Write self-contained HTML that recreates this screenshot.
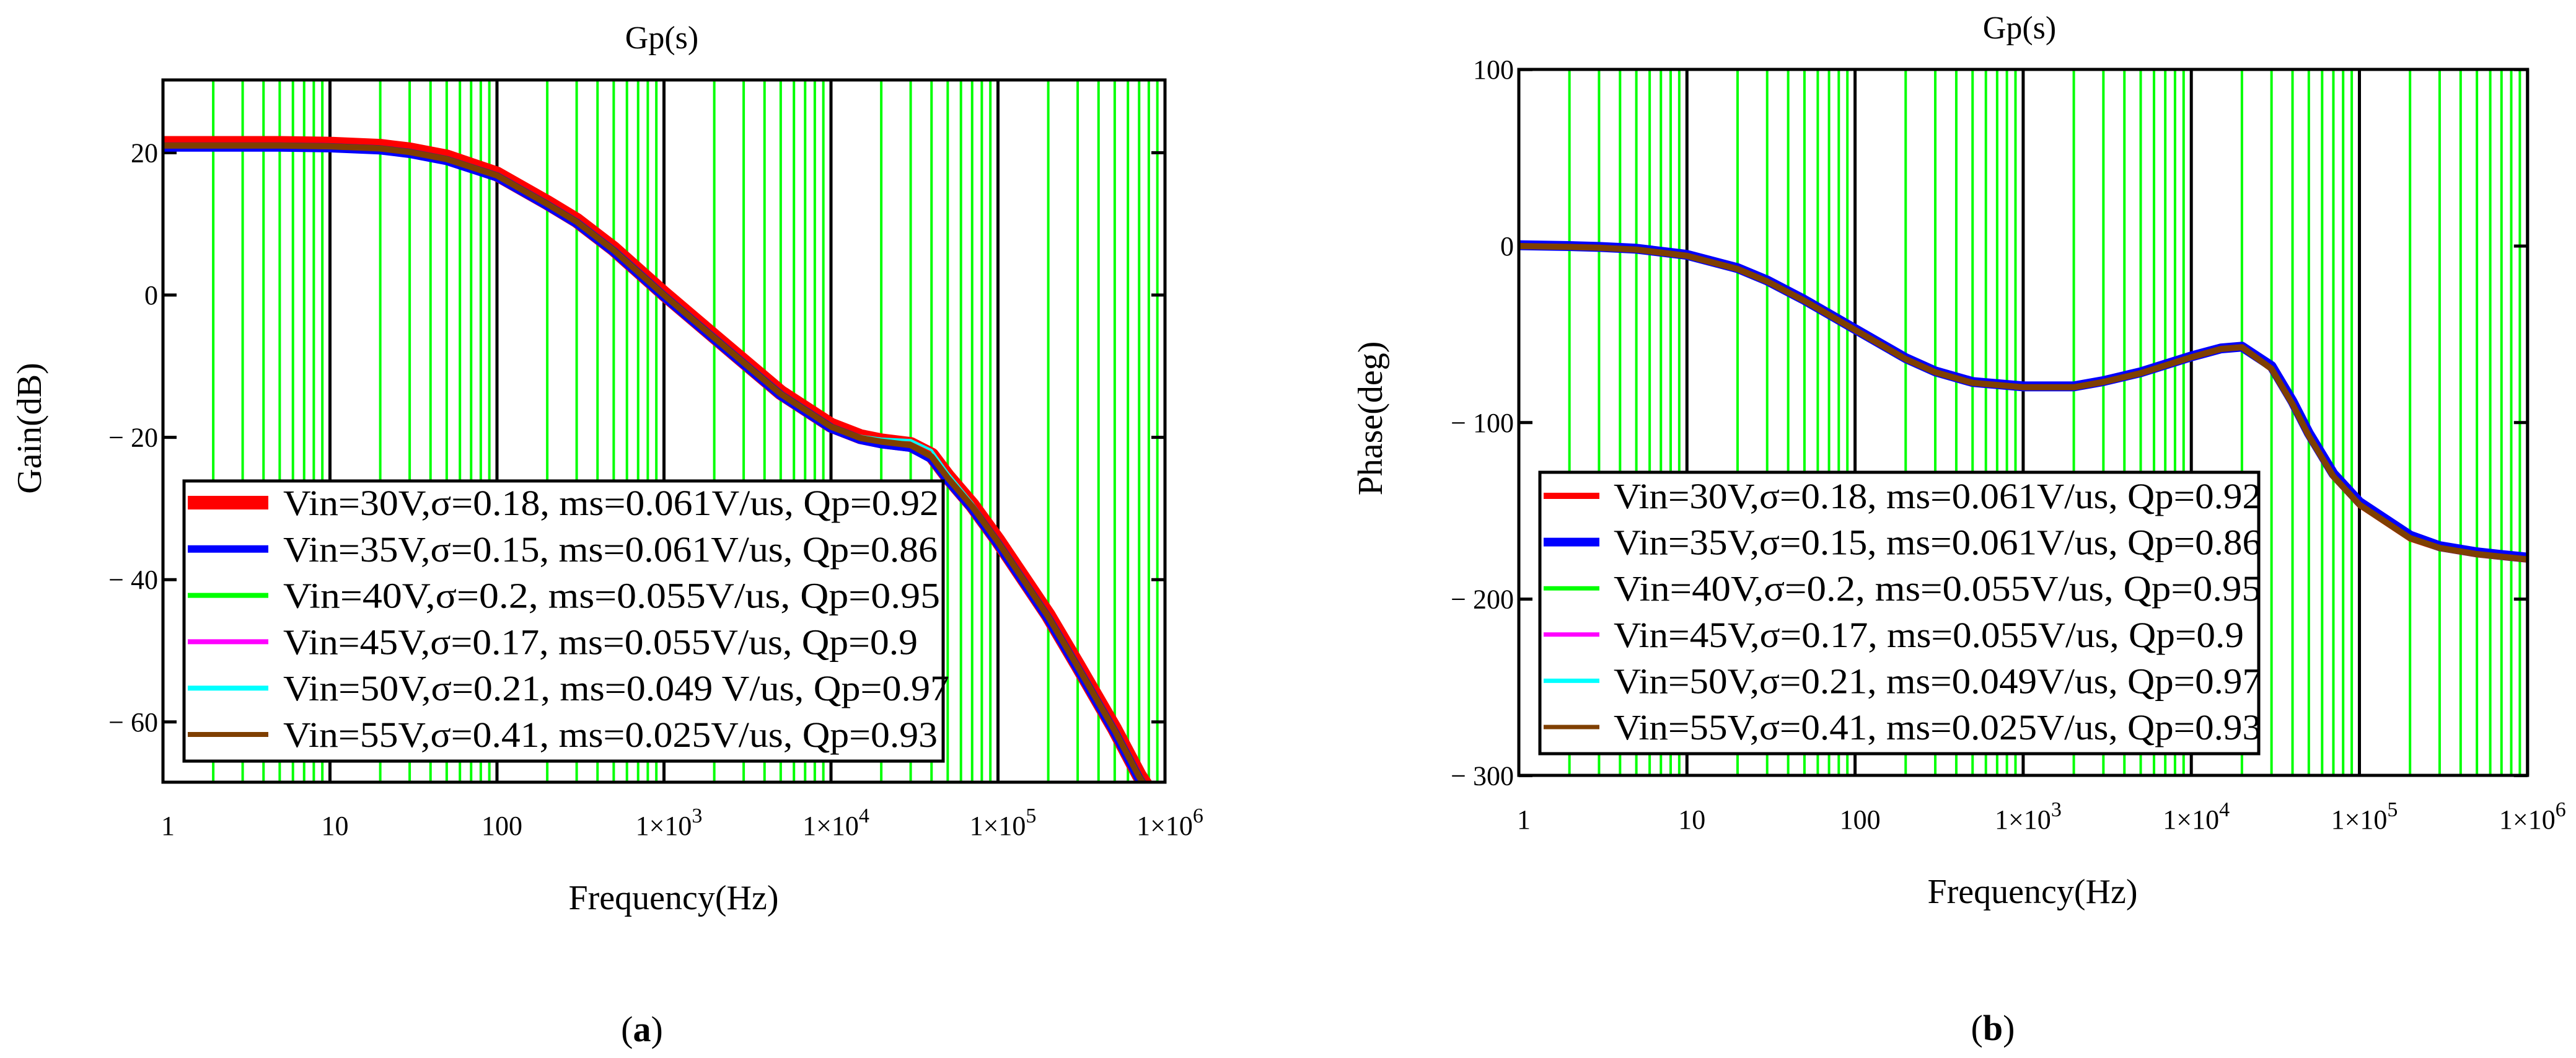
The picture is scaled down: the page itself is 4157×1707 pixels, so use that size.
<!DOCTYPE html>
<html><head><meta charset="utf-8"><style>
html,body{margin:0;padding:0;background:#fff;}
svg{display:block;font-family:"Liberation Serif",serif;}
</style></head><body>
<svg id="fig" width="4157" height="1707" viewBox="0 0 4157 1707" xmlns="http://www.w3.org/2000/svg">
<g id="left"></g>
<g id="right"></g>
</svg>
<script>
const freqs=[1,2,3,5,10,20,30,50,100,200,300,500,1000,2000,3000,5000,10000,15000,20000,30000,40000,50000,70000,100000,200000,300000,500000,700000,1000000];
const gainRed=[21.3,21.3,21.3,21.3,21.2,20.9,20.4,19.4,17,13,10.5,6.5,0.2,-5.8,-9.3,-13.7,-18.3,-19.9,-20.5,-21,-22.5,-25.5,-29.5,-34.5,-45,-52,-61,-67.5,-73];
const gainBlue=[20.8,20.8,20.8,20.8,20.7,20.4,19.9,18.9,16.6,12.6,10.1,6.1,-0.2,-6.2,-9.7,-14.1,-18.7,-20.3,-20.9,-21.4,-23,-26,-30,-35,-45.5,-52.5,-61.5,-68,-73.5];
const gainGreen=[21,21,21,21,20.9,20.6,20.1,19.1,16.8,12.8,10.3,6.3,0,-6,-9.5,-13.9,-18.5,-20.1,-20.6,-21,-22.6,-25.7,-29.7,-34.7,-45.2,-52.2,-61.2,-67.7,-73.2];
const gainMagenta=[21,21,21,21,20.9,20.6,20.1,19.1,16.8,12.8,10.3,6.3,0,-6,-9.5,-13.9,-18.5,-20.1,-20.7,-21.2,-22.8,-25.8,-29.8,-34.8,-45.3,-52.3,-61.3,-67.8,-73.3];
const gainCyan=[21.1,21.1,21.1,21.1,21,20.7,20.2,19.2,16.9,12.9,10.4,6.4,0.1,-5.9,-9.4,-13.8,-18.4,-19.8,-20.2,-20.4,-21.8,-25,-29.2,-34.4,-45,-52,-61,-67.5,-73];
const gainBrown=[21,21,21,21,20.9,20.6,20.1,19.1,16.8,12.8,10.3,6.3,0,-6,-9.5,-13.9,-18.5,-20.1,-20.6,-21.1,-22.7,-25.7,-29.7,-34.7,-45.2,-52.2,-61.2,-67.7,-73.2];
const phaseRed=[0,-0.5,-1,-2,-5.5,-13,-20,-31,-47.5,-64,-71.5,-77.5,-80,-80,-77,-72,-63,-58.5,-57.5,-70,-90,-108,-131,-147,-166,-171.5,-175,-176.5,-178];
const phaseBlue=[0.5,0,-0.5,-1.5,-5,-12.5,-19.5,-30.5,-47,-63.5,-71,-77,-79.5,-79.5,-76.5,-71.5,-62.5,-58,-57,-68,-88,-106,-129,-145,-164,-170,-173.5,-175,-176.5];
const phaseGreen=[0,-0.5,-1,-2,-5.5,-13,-20,-31,-47.5,-64,-71.5,-77.5,-80,-80,-77,-72,-63,-58.3,-57.2,-69.5,-89.5,-107.5,-130.5,-146.5,-165.5,-171,-174.5,-176,-177.5];
const phaseMagenta=[0,-0.5,-1,-2,-5.5,-13,-20,-31,-47.5,-64,-71.5,-77.5,-80,-80,-77,-72,-63,-58.5,-57.5,-70,-90,-108,-131,-147,-166,-171.5,-175,-176.5,-178];
const phaseCyan=[0,-0.5,-1,-2,-5.5,-13,-20,-31,-47.5,-64,-71.5,-77.5,-80,-80,-77,-72,-62.5,-57.5,-56.5,-68.5,-89,-107.5,-131,-147.5,-166.5,-172,-175.5,-177,-178];
const phaseBrown=[0,-0.5,-1,-2,-5.5,-13,-20,-31,-47.5,-64,-71.5,-77.5,-80,-80,-77,-72,-63,-58.3,-57.3,-69.5,-89.5,-107.5,-130.5,-146.5,-165.5,-171,-174.5,-176,-177.5];
const gainTicks=[20,0,-20,-40,-60];
const gainTickLabels=["20","0","\u2212 20","\u2212 40","\u2212 60"];
const phaseTicks=[100,0,-100,-200,-300];
const phaseTickLabels=["100","0","\u2212 100","\u2212 200","\u2212 300"];
const decadeExps=[0,1,2,3,4,5,6];
const legendLabelsA=["Vin=30V,\u03c3=0.18, ms=0.061V/us, Qp=0.92","Vin=35V,\u03c3=0.15, ms=0.061V/us, Qp=0.86","Vin=40V,\u03c3=0.2,   ms=0.055V/us, Qp=0.95","Vin=45V,\u03c3=0.17, ms=0.055V/us, Qp=0.9","Vin=50V,\u03c3=0.21, ms=0.049 V/us, Qp=0.97","Vin=55V,\u03c3=0.41, ms=0.025V/us, Qp=0.93"];
const legendLabelsB=["Vin=30V,\u03c3=0.18, ms=0.061V/us, Qp=0.92","Vin=35V,\u03c3=0.15, ms=0.061V/us, Qp=0.86","Vin=40V,\u03c3=0.2,   ms=0.055V/us, Qp=0.95","Vin=45V,\u03c3=0.17, ms=0.055V/us, Qp=0.9","Vin=50V,\u03c3=0.21, ms=0.049V/us, Qp=0.97","Vin=55V,\u03c3=0.41, ms=0.025V/us, Qp=0.93"];
const seriesColors=["#ff0000","#0000ff","#00ff00","#ff00ff","#00ffff","#7f3f00"];

const NS="http://www.w3.org/2000/svg";
function mk(parent,tag,attrs){const e=document.createElementNS(NS,tag);for(const k in attrs)e.setAttribute(k,attrs[k]);parent.appendChild(e);return e;}

function drawChart(g,cfg){
  const X=f=>cfg.x0+Math.log10(f)*cfg.dec;
  const Y=v=>cfg.yZero-v*cfg.ppu;
  const L=cfg.x0,R=cfg.x0+6*cfg.dec,T=cfg.top,B=cfg.bottom;
  // clip
  const cp=mk(g,'clipPath',{id:cfg.id+'clip'});
  mk(cp,'rect',{x:L,y:T,width:R-L,height:B-T});
  // green minor grid
  decadeExps.slice(0,6).forEach(e=>{for(let m=2;m<=9;m++){
    const ln=mk(g,'line',{x1:X(m*Math.pow(10,e)),x2:X(m*Math.pow(10,e)),y1:T,y2:B,stroke:'#00ff00','stroke-width':4});
    
    
  }});
  // black decade lines
  decadeExps.forEach(e=>{
    const ln=mk(g,'line',{x1:X(Math.pow(10,e)),x2:X(Math.pow(10,e)),y1:T,y2:B,stroke:'#000','stroke-width':5});
    
    
    const cx=X(Math.pow(10,e))+8;
    const t=mk(g,'text',{x:cx,y:cfg.xLabY,'font-size':44,'text-anchor':'middle'});
    
    
    if(e===0)t.textContent='1';else if(e===1)t.textContent='10';else if(e===2)t.textContent='100';
    else{t.textContent='1\u00d710';const s=mk(t,'tspan',{dy:-20,'font-size':34});s.textContent=String(e);}
  });
  // y ticks
  cfg.ticks.forEach((v,i)=>{
    const y=Y(v);
    const a=mk(g,'line',{x1:L,x2:L+22,y1:y,y2:y,stroke:'#000','stroke-width':5});
    
    
    const b=mk(g,'line',{x1:R-22,x2:R,y1:y,y2:y,stroke:'#000','stroke-width':5});
    
    
    const t=mk(g,'text',{x:L-8,y:y+15,'font-size':44,'text-anchor':'end'});
    
    
    t.textContent=cfg.tickLabels[i];
  });
  // series
  const cg=mk(g,'g',{'clip-path':'url(#'+cfg.id+'clip)'});
  const order=[0,1,2,3,4,5];
  order.forEach(i=>{
    const vals=cfg.series[i];
    const pts=freqs.map((f,k)=>X(f).toFixed(1)+','+Y(vals[k]).toFixed(1)).join(' ');
    const pl=mk(cg,'polyline',{points:pts,fill:'none',stroke:seriesColors[i],'stroke-width':cfg.widths[i],'stroke-linejoin':'round','stroke-linecap':'butt'});
    
    
  });
  // frame
  const fr=mk(g,'rect',{x:L,y:T,width:R-L,height:B-T,fill:'none',stroke:'#000','stroke-width':5});
  
  
  // legend
  const lg=mk(g,'g',{});
  
  
  const lb=mk(lg,'rect',{x:cfg.lg.x,y:cfg.lg.y,width:cfg.lg.w,height:cfg.lg.h,fill:'#fff',stroke:'#000','stroke-width':5});
  
  
  cfg.labels.forEach((s,i)=>{
    const ry=cfg.lg.row0+i*cfg.lg.rowH;
    const sw=mk(lg,'line',{x1:cfg.lg.sx1,x2:cfg.lg.sx2,y1:ry,y2:ry,stroke:seriesColors[i],'stroke-width':cfg.lgWidths[i]});
    
    
    const t=mk(lg,'text',{x:cfg.lg.tx,y:ry+20,'font-size':58,textLength:cfg.lg.tl[i],lengthAdjust:'spacingAndGlyphs'});
    
    
    t.textContent=s;
  });
  // titles
  const ti=mk(g,'text',{x:cfg.titleX,y:cfg.titleY,'font-size':52,'text-anchor':'middle'});
  
  
  ti.textContent='Gp(s)';
  const xl=mk(g,'text',{x:cfg.xtX,y:cfg.xtY,'font-size':56,'text-anchor':'middle'});
  
  
  xl.textContent='Frequency(Hz)';
  const yl=mk(g,'text',{x:0,y:0,'font-size':56,'text-anchor':'middle',transform:'translate('+cfg.ytX+','+cfg.ytY+') rotate(-90)'});
  
  
  yl.textContent=cfg.yTitle;
  const pa=mk(g,'text',{x:cfg.panX,y:cfg.panY,'font-size':58,'text-anchor':'middle'});
  
  
  pa.appendChild(document.createTextNode('('));
  const bb=mk(pa,'tspan',{'font-weight':'bold'});bb.textContent=cfg.panel;
  pa.appendChild(document.createTextNode(')'));
}

drawChart(document.getElementById('left'),{
  id:'a',x0:263,dec:269.5,top:129,bottom:1262,yZero:476,ppu:11.48,
  ticks:gainTicks,tickLabels:gainTickLabels,xLabY:1347,
  series:[gainRed,gainBlue,gainGreen,gainMagenta,gainCyan,gainBrown],
  widths:[24,15,4,4,4,10],lgWidths:[22,12,8,8,8,8],labels:legendLabelsA,
  lg:{x:297,y:776,w:1225,h:452,row0:811,rowH:74.8,sx1:303,sx2:433,tx:457,tl:[1058,1056,1060,1024,1075,1056]},
  titleX:1068,titleY:78,xtX:1087,xtY:1467,ytX:66,ytY:691,yTitle:'Gain(dB)',panX:1036,panY:1680,panel:'a'
});
drawChart(document.getElementById('right'),{
  id:'b',x0:2451,dec:271.3,top:112,bottom:1251,yZero:397,ppu:2.848,
  ticks:phaseTicks,tickLabels:phaseTickLabels,xLabY:1337,
  series:[phaseRed,phaseBlue,phaseGreen,phaseMagenta,phaseCyan,phaseBrown],
  widths:[8,16,4,4,4,10],lgWidths:[10,14,7,7,7,7],labels:legendLabelsB,
  lg:{x:2485,y:762,w:1160,h:454,row0:800,rowH:74.6,sx1:2491,sx2:2581,tx:2604,tl:[1045,1045,1045,1017,1045,1045]},
  titleX:3259,titleY:62,xtX:3280,xtY:1457,ytX:2230,ytY:675,yTitle:'Phase(deg)',panX:3216,panY:1678,panel:'b'
});
</script>
</body></html>
